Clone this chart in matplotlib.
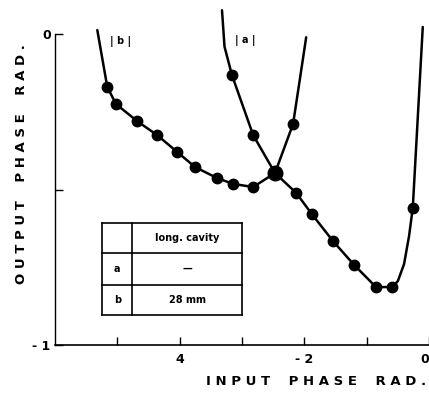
import matplotlib
matplotlib.use("Agg")
import matplotlib.pyplot as plt

plt.rcParams.update({
    "font.family": "DejaVu Sans",
    "font.weight": "bold",
})

# curve (b): 28 mm cavity, line vertices
b_x = [-5.32, -5.16, -5.02, -4.68, -4.36, -4.04, -3.75, -3.40, -3.14, -2.82,
       -2.47, -2.13, -1.88, -1.54, -1.20, -0.85, -0.59, -0.50, -0.40, -0.32, -0.26, -0.10]
b_y = [0.013, -0.170, -0.225, -0.280, -0.325, -0.379, -0.428, -0.463, -0.482, -0.492,
       -0.447, -0.511, -0.579, -0.666, -0.743, -0.814, -0.814, -0.795, -0.740, -0.650, -0.559, 0.023]
b_dots = [1, 2, 3, 4, 5, 6, 7, 8, 9, 11, 12, 13, 14, 15, 16, 20]

# curve (a): long cavity
a_x = [-3.32, -3.28, -3.16, -2.82, -2.47, -2.18, -2.06, -1.97]
a_y = [0.077, -0.040, -0.132, -0.325, -0.447, -0.289, -0.130, -0.010]
a_dots = [2, 3, 4, 5]

x_ticks = [-5, -4, -3, -2, -1, 0]
x_ticklabels = ["", "4", "", "- 2", "", "0"]
y_ticks = [-1, -0.5, 0]
y_ticklabels = ["- 1", "", "0"]

table_rows = [("", "long. cavity"), ("a", "\u2014"), ("b", "28 mm")]

fig = plt.figure(figsize=(4.29, 3.95), dpi=100)
ax = fig.add_axes([0.128, 0.127, 0.872, 0.873])

ax.plot(b_x, b_y, color="black", lw=1.8, solid_capstyle="round", solid_joinstyle="round", clip_on=False)
ax.plot([b_x[i] for i in b_dots], [b_y[i] for i in b_dots], "o", color="black", ms=7.5, clip_on=False)
ax.plot(a_x, a_y, color="black", lw=1.8, solid_capstyle="round", solid_joinstyle="round", clip_on=False)
ax.plot([a_x[i] for i in a_dots], [a_y[i] for i in a_dots], "o", color="black", ms=7.5, clip_on=False)
ax.plot([a_x[4]], [a_y[4]], "o", color="black", ms=10.5)

ax.text(-4.95, -0.025, "| b |", fontsize=7, ha="center", va="center")
ax.text(-2.95, -0.02, "| a |", fontsize=7, ha="center", va="center")

# inset table
x0, x1, x2 = -5.24, -4.76, -3.00
ys = [-0.608, -0.704, -0.807, -0.904]
for yy in ys:
    ax.plot([x0, x2], [yy, yy], color="black", lw=1.2)
for xx in (x0, x1, x2):
    ax.plot([xx, xx], [ys[0], ys[-1]], color="black", lw=1.2)
for k, (c1, c2) in enumerate(table_rows):
    ym = (ys[k] + ys[k + 1]) / 2
    ax.text((x0 + x1) / 2, ym, c1, fontsize=7, ha="center", va="center")
    ax.text((x1 + x2) / 2, ym, c2, fontsize=7, ha="center", va="center")

ax.set_xlim(-6, 0)
ax.set_ylim(-1, 0.11)
ax.spines["top"].set_visible(False)
ax.spines["right"].set_visible(False)
ax.spines["left"].set_bounds(-1, 0)
ax.spines["left"].set_linewidth(1.0)
ax.spines["bottom"].set_linewidth(1.2)
ax.set_xticks(x_ticks)
ax.set_xticklabels(x_ticklabels)
ax.get_xticklabels()[-1].set_horizontalalignment("right")
ax.set_yticks(y_ticks)
ax.set_yticklabels(y_ticklabels)
ax.tick_params(direction="in", length=6, width=1, labelsize=9, pad=6)
ax.tick_params(axis="y", pad=3)

fig.text(0.737, 0.035, "I N P U T    P H A S E    R A D .", fontsize=9.5, fontweight="bold",
         ha="center", va="center")
fig.text(0.05, 0.585, "O U T P U T    P H A S E    R A D .", fontsize=9.5, fontweight="bold",
         ha="center", va="center", rotation=90)

fig.savefig("out.png", dpi=100)
